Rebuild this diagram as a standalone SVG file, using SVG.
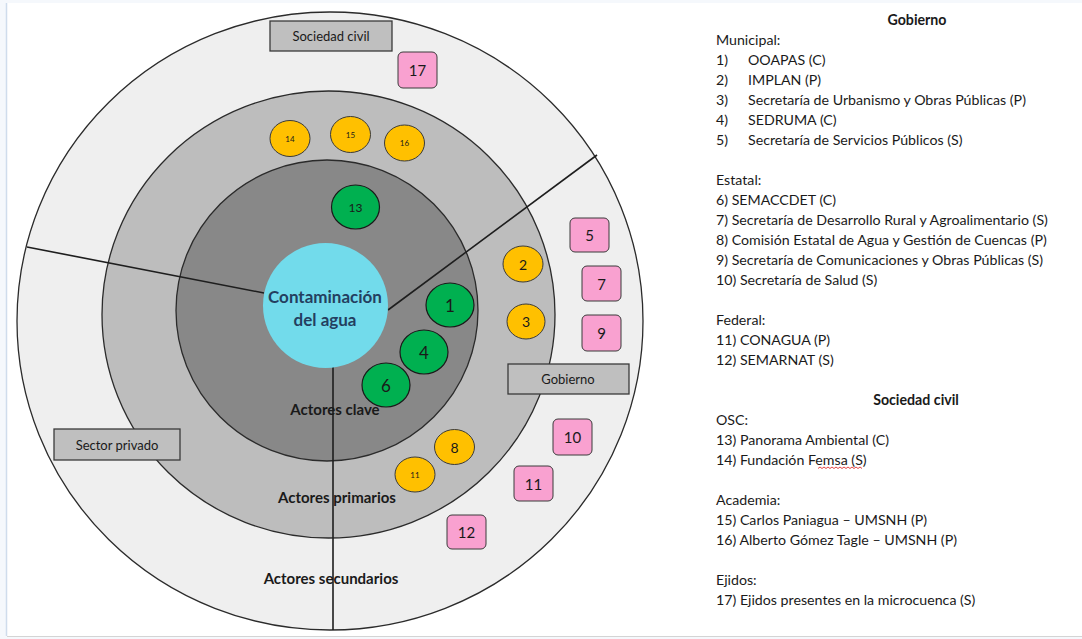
<svg xmlns="http://www.w3.org/2000/svg" width="1082" height="639" viewBox="0 0 1082 639">
<style>
.t{font-family:Lato,"Liberation Sans",sans-serif;fill:#1a1a1a}
.ring{stroke:#2b2b2b;stroke-width:1.3}
.ln{stroke:#1e1e1e;stroke-width:1.6;fill:none}
.sec{fill:#bfbfbf;stroke:#3a3a3a;stroke-width:1.3}
.g{fill:#00b050;stroke:#1a1a1a;stroke-width:1.2}
.o{fill:#ffc000;stroke:#3a3a3a;stroke-width:1}
.p{fill:#f9a1d0;stroke:#3a3a3a;stroke-width:1}
.c{text-anchor:middle;dominant-baseline:central}
.lst{font-family:Lato,"Liberation Sans",sans-serif;font-size:14.2px;fill:#1a1a1a}
</style>
<rect x="0" y="0" width="1082" height="639" fill="#f5f8fc"/>
<rect x="7" y="3" width="1075" height="633" fill="#ffffff"/>
<line x1="6.5" y1="3" x2="6.5" y2="636" stroke="#cfdcec" stroke-width="1.5"/>
<line x1="7" y1="636.5" x2="1082" y2="636.5" stroke="#d4d4d4" stroke-width="1"/>

<g id="rings">
<ellipse class="ring" cx="330" cy="321" rx="313" ry="309" fill="#efefef"/>
<ellipse class="ring" cx="328.5" cy="314.5" rx="226.5" ry="223.5" fill="#bdbdbd"/>
<ellipse class="ring" cx="327" cy="310.5" rx="151" ry="150.5" fill="#888888"/>
</g>

<g id="connectors">
<line class="ln" x1="27" y1="247" x2="264" y2="293"/>
<line class="ln" x1="388" y1="310" x2="597" y2="155"/>
<line class="ln" x1="333" y1="366" x2="333" y2="630"/>
</g>

<g id="center">
<circle cx="325.5" cy="305.5" r="62.5" fill="#72dbeb"/>
<text class="t" x="325" y="303" text-anchor="middle" font-size="17" font-weight="bold" style="fill:#243f60">Contaminación</text>
<text class="t" x="325" y="326" text-anchor="middle" font-size="17" font-weight="bold" style="fill:#243f60">del agua</text>
</g>

<g id="ring-labels">
<text class="t" x="335" y="415" text-anchor="middle" font-size="15" font-weight="bold">Actores clave</text>
<text class="t" x="337" y="503" text-anchor="middle" font-size="15" font-weight="bold">Actores primarios</text>
<text class="t" x="331" y="584" text-anchor="middle" font-size="15" font-weight="bold">Actores secundarios</text>
</g>

<g id="sector-sociedad-civil">
<rect class="sec" x="270" y="21" width="122" height="30"/>
<text class="t c" x="331" y="36" font-size="13">Sociedad civil</text>
</g>
<g id="sector-gobierno">
<rect class="sec" x="508" y="364" width="121" height="30"/>
<text class="t c" x="568" y="379" font-size="13">Gobierno</text>
</g>
<g id="sector-privado">
<rect class="sec" x="54" y="429" width="126" height="31"/>
<text class="t c" x="117" y="444.5" font-size="13">Sector privado</text>
</g>

<g id="n13"><ellipse class="g" cx="355.5" cy="207" rx="24" ry="22"/><text class="t c" x="355.5" y="207" font-size="12">13</text></g>
<g id="n1"><ellipse class="g" cx="450" cy="305" rx="24" ry="22"/><text class="t c" x="450" y="305" font-size="17">1</text></g>
<g id="n4"><ellipse class="g" cx="424" cy="352" rx="24" ry="22"/><text class="t c" x="424" y="352" font-size="17">4</text></g>
<g id="n6"><ellipse class="g" cx="386" cy="385" rx="24" ry="22"/><text class="t c" x="386" y="385" font-size="17">6</text></g>

<g id="n14"><ellipse class="o" cx="290" cy="138.5" rx="20" ry="18"/><text class="t c" x="290" y="138.5" font-size="8">14</text></g>
<g id="n15"><ellipse class="o" cx="350.5" cy="134.5" rx="20" ry="18"/><text class="t c" x="350.5" y="134.5" font-size="8">15</text></g>
<g id="n16"><ellipse class="o" cx="404.5" cy="143" rx="20" ry="18"/><text class="t c" x="404.5" y="143" font-size="8">16</text></g>
<g id="n2"><ellipse class="o" cx="523" cy="264" rx="20" ry="18"/><text class="t c" x="523" y="264" font-size="14">2</text></g>
<g id="n3"><ellipse class="o" cx="526" cy="321.5" rx="19" ry="17.5"/><text class="t c" x="526" y="321.5" font-size="14">3</text></g>
<g id="n8"><ellipse class="o" cx="454.5" cy="447" rx="20" ry="17.5"/><text class="t c" x="454.5" y="447" font-size="14">8</text></g>
<g id="n11o"><ellipse class="o" cx="415" cy="474.5" rx="20" ry="17.5"/><text class="t c" x="415" y="474.5" font-size="8">11</text></g>

<g id="n17"><rect class="p" x="398" y="52" width="39" height="36" rx="5"/><text class="t c" x="417.5" y="70" font-size="15">17</text></g>
<g id="n5"><rect class="p" x="570" y="218" width="39" height="34" rx="5"/><text class="t c" x="589.5" y="235" font-size="15">5</text></g>
<g id="n7"><rect class="p" x="582" y="266" width="39" height="35" rx="5"/><text class="t c" x="601.5" y="283.5" font-size="15">7</text></g>
<g id="n9"><rect class="p" x="582" y="315" width="39" height="36" rx="5"/><text class="t c" x="601.5" y="333" font-size="15">9</text></g>
<g id="n10"><rect class="p" x="553" y="419" width="39" height="36" rx="5"/><text class="t c" x="572.5" y="437" font-size="15">10</text></g>
<g id="n11"><rect class="p" x="514" y="466" width="39" height="35" rx="5"/><text class="t c" x="533.5" y="483.5" font-size="15">11</text></g>
<g id="n12"><rect class="p" x="447" y="515" width="39" height="34" rx="5"/><text class="t c" x="466.5" y="532" font-size="15">12</text></g>

<g id="legend">
<text class="lst" x="917" y="25" text-anchor="middle" font-weight="bold">Gobierno</text>
<text class="lst" x="716" y="45">Municipal:</text>
<text class="lst" x="716" y="65">1)</text><text class="lst" x="748" y="65">OOAPAS (C)</text>
<text class="lst" x="716" y="85">2)</text><text class="lst" x="748" y="85">IMPLAN (P)</text>
<text class="lst" x="716" y="105">3)</text><text class="lst" x="748" y="105">Secretaría de Urbanismo y Obras Públicas (P)</text>
<text class="lst" x="716" y="125">4)</text><text class="lst" x="748" y="125">SEDRUMA (C)</text>
<text class="lst" x="716" y="145">5)</text><text class="lst" x="748" y="145">Secretaría de Servicios Públicos (S)</text>
<text class="lst" x="716" y="185">Estatal:</text>
<text class="lst" x="716" y="205">6) SEMACCDET (C)</text>
<text class="lst" x="716" y="225">7) Secretaría de Desarrollo Rural y Agroalimentario (S)</text>
<text class="lst" x="716" y="245">8) Comisión Estatal de Agua y Gestión de Cuencas (P)</text>
<text class="lst" x="716" y="265">9) Secretaría de Comunicaciones y Obras Públicas (S)</text>
<text class="lst" x="716" y="285">10) Secretaría de Salud (S)</text>
<text class="lst" x="716" y="325">Federal:</text>
<text class="lst" x="716" y="345">11) CONAGUA (P)</text>
<text class="lst" x="716" y="365">12) SEMARNAT (S)</text>
<text class="lst" x="916" y="405" text-anchor="middle" font-weight="bold">Sociedad civil</text>
<text class="lst" x="716" y="425">OSC:</text>
<text class="lst" x="716" y="445">13) Panorama Ambiental (C)</text>
<text class="lst" x="716" y="465">14) Fundación Femsa (S)</text>
<path d="M818 468.5 l2 -1.5 l2 1.5 l2 -1.5 l2 1.5 l2 -1.5 l2 1.5 l2 -1.5 l2 1.5 l2 -1.5 l2 1.5 l2 -1.5 l2 1.5 l2 -1.5 l2 1.5 l2 -1.5 l2 1.5 l2 -1.5 l2 1.5 l2 -1.5 l2 1.5 l2 -1.5 l2 1.5" fill="none" stroke="#e03030" stroke-width="0.9"/>
<text class="lst" x="716" y="505">Academia:</text>
<text class="lst" x="716" y="525">15) Carlos Paniagua – UMSNH (P)</text>
<text class="lst" x="716" y="545">16) Alberto Gómez Tagle – UMSNH (P)</text>
<text class="lst" x="716" y="585">Ejidos:</text>
<text class="lst" x="716" y="605">17) Ejidos presentes en la microcuenca (S)</text>
</g>
</svg>
